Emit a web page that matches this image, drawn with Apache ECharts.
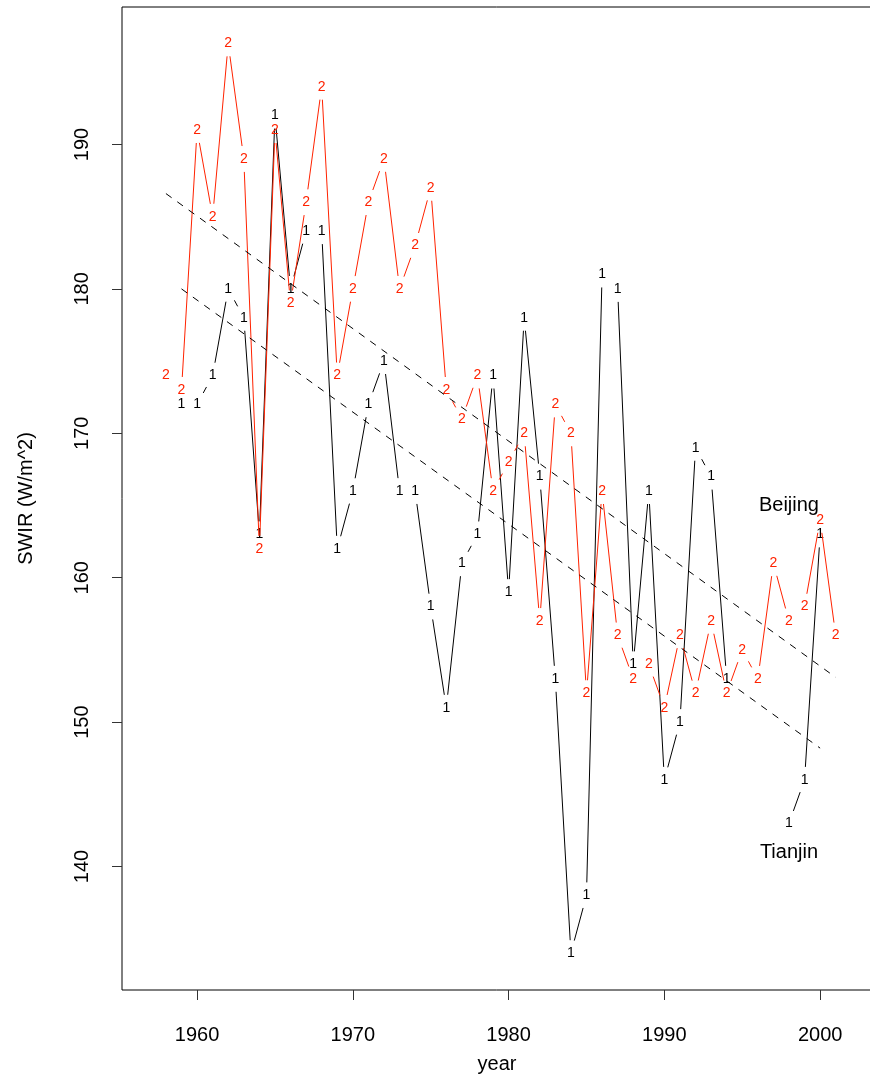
<!DOCTYPE html>
<html>
<head>
<meta charset="utf-8">
<script src="https://cdn.jsdelivr.net/npm/echarts@6/dist/echarts.min.js"></script>
<style>
  html, body { margin: 0; padding: 0; background: #fff; }
  #main { width: 870px; height: 1074px; }
</style>
</head>
<body>
<div id="main"></div>
<script>
// years of observation
const years = [1958, 1959, 1960, 1961, 1962, 1963, 1964, 1965, 1966, 1967,
    1968, 1969, 1970, 1971, 1972, 1973, 1974, 1975, 1976, 1977,
    1978, 1979, 1980, 1981, 1982, 1983, 1984, 1985, 1986, 1987,
    1988, 1989, 1990, 1991, 1992, 1993, 1994, 1995, 1996, 1997,
    1998, 1999, 2000, 2001];
// Tianjin (series "1")
const tianjin = [null, 172, 172, 174, 180, 178, 163, 192, 180, 184,
    184, 162, 166, 172, 175, 166, 166, 158, 151, 161,
    163, 174, 159, 178, 167, 153, 134, 138, 181, 180,
    154, 166, 146, 150, 169, 167, 153, null, null, null,
    143, 146, 163, null];
// Beijing (series "2")
const beijing = [174, 173, 191, 185, 197, 189, 162, 191, 179, 186,
    194, 174, 180, 186, 189, 180, 183, 187, 173, 171,
    174, 166, 168, 170, 157, 172, 170, 152, 166, 156,
    153, 154, 151, 156, 152, 157, 152, 155, 153, 161,
    157, 158, 164, 156];
// fitted trend lines (ends)
const beijingTrend = [[1958, 186.6], [2001, 153.1]];
const tianjinTrend = [[1959, 180.0], [2000, 148.2]];
// tick labels
const xTicks = [1960, 1970, 1980, 1990, 2000];
const yTicks = [140, 150, 160, 170, 180, 190];
// station names written in the plot
const stationNames = ["Beijing", "Tianjin"];
const stationNamePos = [[1998, 165], [1998, 141]];

const FONT = '"Liberation Sans", Arial, Helvetica, sans-serif';
const GAP = 13; // gap around each glyph, like type="b"

// segments between consecutive points, with a gap at both ends
function gapLines(values, color) {
    let segs = [];
    for (let i = 0; i < years.length - 1; i++) {
        if (values[i] != null && values[i + 1] != null) {
            segs.push([years[i], values[i], years[i + 1], values[i + 1]]);
        }
    }
    return {
        type: "custom",
        silent: true,
        clip: true,
        data: segs,
        encode: {x: [0, 2], y: [1, 3]},
        renderItem(params, api) {
            let a = api.coord([api.value(0), api.value(1)]);
            let b = api.coord([api.value(2), api.value(3)]);
            let dx = b[0] - a[0], dy = b[1] - a[1];
            let len = Math.sqrt(dx * dx + dy * dy);
            if (len <= 2 * GAP) {
                return {type: "group", children: []};
            }
            let ux = dx / len, uy = dy / len;
            return {
                type: "line",
                shape: {
                    x1: a[0] + ux * GAP, y1: a[1] + uy * GAP,
                    x2: b[0] - ux * GAP, y2: b[1] - uy * GAP
                },
                style: {stroke: color, lineWidth: 1}
            };
        }
    };
}

// the "1" / "2" characters at each point
function glyphs(values, ch, color) {
    let pts = [];
    for (let i = 0; i < years.length; i++) {
        if (values[i] != null) pts.push([years[i], values[i]]);
    }
    return {
        type: "custom",
        silent: true,
        data: pts,
        encode: {x: 0, y: 1},
        renderItem(params, api) {
            let p = api.coord([api.value(0), api.value(1)]);
            return {
                type: "text",
                x: p[0],
                y: p[1],
                style: {
                    text: ch, fill: color, fontSize: 14, fontFamily: FONT,
                    align: "center", verticalAlign: "middle"
                }
            };
        }
    };
}

function trendLine(ends) {
    return {
        type: "line",
        silent: true,
        symbol: "none",
        data: ends,
        lineStyle: {color: "#000", width: 1, type: [7, 7]},
        z: 3
    };
}

let chart = echarts.init(document.getElementById("main"), null, {renderer: "canvas"});
let option = {
    animation: false,
    backgroundColor: "#fff",
    textStyle: {fontFamily: FONT},
    grid: {
        left: 122, right: -2, top: 7, bottom: 84,
        outerBoundsMode: "none",
        show: true, borderColor: "#000", borderWidth: 1, backgroundColor: "transparent"
    },
    xAxis: {
        type: "value",
        min: 1955.18,
        max: 2003.33,
        name: "year",
        nameLocation: "middle",
        nameGap: 64,
        nameTextStyle: {fontSize: 20, color: "#000", fontFamily: FONT},
        axisLine: {show: false},
        splitLine: {show: false},
        axisTick: {show: true, length: 10, customValues: xTicks, lineStyle: {color: "#333"}},
        axisLabel: {
            customValues: xTicks, fontSize: 20, color: "#000", margin: 35, fontFamily: FONT,
            formatter: v => String(v)
        }
    },
    yAxis: {
        type: "value",
        min: 131.45,
        max: 199.52,
        name: "SWIR (W/m^2)",
        nameLocation: "middle",
        nameGap: 86,
        nameTextStyle: {fontSize: 20, color: "#000", fontFamily: FONT},
        axisLine: {show: false},
        splitLine: {show: false},
        axisTick: {show: true, length: 10, customValues: yTicks, lineStyle: {color: "#333"}},
        axisLabel: {customValues: yTicks, fontSize: 20, color: "#000", rotate: 90, margin: 30, fontFamily: FONT}
    },
    series: [
        gapLines(tianjin, "#000"),
        glyphs(tianjin, "1", "#000"),
        gapLines(beijing, "#ff2200"),
        glyphs(beijing, "2", "#ff2200"),
        trendLine(beijingTrend),
        trendLine(tianjinTrend),
        {
            type: "custom",
            silent: true,
            data: stationNamePos,
            encode: {x: 0, y: 1},
            renderItem(params, api) {
                let p = api.coord([api.value(0), api.value(1)]);
                return {
                    type: "text", x: p[0], y: p[1],
                    style: {
                        text: stationNames[params.dataIndex], fill: "#000",
                        fontSize: 20, fontFamily: FONT,
                        align: "center", verticalAlign: "middle"
                    }
                };
            }
        }
    ]
};
chart.setOption(option);
</script>
</body>
</html>
